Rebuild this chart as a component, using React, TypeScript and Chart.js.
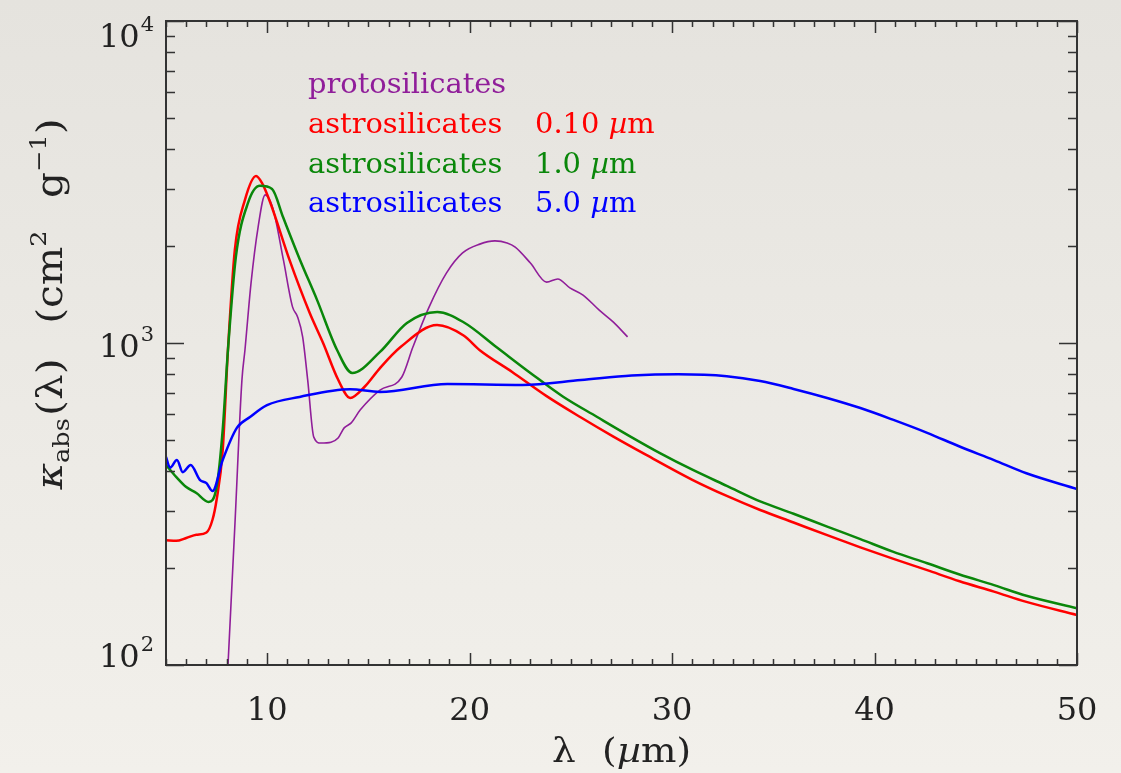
import React, { useEffect, useRef } from "react";
import { Chart, registerables } from "chart.js";

Chart.register(...registerables);

// ---------------- data (wavelength in µm, kappa_abs in cm^2 g^-1) ----------------
const protoX = [7.9, 8.41, 8.75, 8.9, 9.2, 9.55, 9.9, 10.3, 10.8, 11.25, 11.5, 11.75, 12.0, 12.3, 12.65, 13.15, 13.5, 13.8, 14.15, 14.6, 15.57, 16.65, 17.2, 18.0, 18.85, 19.65, 20.5, 21.25, 21.85, 22.25, 23.0, 23.8, 24.35, 24.95, 25.6, 26.4, 27.1, 27.8];
const protoY = [62, 278, 767, 951, 1535, 2292, 2884, 2590, 1811, 1295, 1205, 1045, 767, 510, 489, 492, 507, 545, 565, 620, 714, 784, 973, 1295, 1648, 1904, 2028, 2075, 2045, 1985, 1771, 1545, 1580, 1483, 1409, 1265, 1161, 1045];

const astro010X = [5.0, 5.5, 6.0, 6.5, 7.0, 7.3, 7.5, 7.8, 8.06, 8.4, 8.9, 9.45, 9.74, 10.14, 11.1, 12.1, 12.76, 13.5, 14.1, 14.8, 15.57, 16.6, 18.39, 19.7, 20.5, 22.1, 23.8, 25.5, 27.1, 28.7, 31.0, 32.7, 34.35, 36.0, 37.66, 39.3, 40.9, 42.6, 44.2, 45.9, 47.5, 50.0];
const astro010Y = [244, 243, 248, 254, 258, 283, 326, 464, 951, 1945, 2782, 3300, 3140, 2740, 1811, 1239, 1000, 770, 675, 730, 836, 973, 1137, 1055, 950, 813, 684, 587, 512, 450, 376, 335, 303, 277, 253, 232, 214, 197, 182, 169, 157, 143];

const astro10X = [5.0, 5.5, 6.0, 6.5, 7.1, 7.5, 7.8, 8.06, 8.45, 9.05, 9.64, 10.24, 10.78, 11.62, 12.46, 13.45, 14.2, 15.57, 16.9, 18.4, 19.7, 21.35, 23.0, 24.6, 26.3, 27.9, 29.4, 31.0, 32.7, 34.35, 36.0, 37.66, 39.3, 40.9, 42.6, 44.2, 45.9, 47.5, 50.0];
const astro10Y = [418, 384, 357, 342, 321, 357, 537, 951, 1849, 2722, 3076, 3009, 2461, 1811, 1361, 951, 807, 938, 1154, 1248, 1160, 968, 807, 682, 589, 514, 455, 404, 360, 322, 295, 269, 246, 225, 207, 191, 177, 164, 150];

const astro50X = [5.0, 5.2, 5.54, 5.83, 6.22, 6.67, 7.0, 7.3, 7.8, 8.5, 9.15, 9.99, 11.6, 14.1, 15.57, 18.9, 22.6, 25.5, 28.0, 30.3, 32.7, 34.35, 36.0, 37.66, 39.3, 40.9, 42.6, 44.2, 45.9, 47.5, 50.0];
const astro50Y = [443, 410, 433, 397, 418, 376, 367, 347, 433, 545, 589, 641, 680, 719, 705, 746, 741, 767, 792, 800, 789, 762, 720, 675, 628, 578, 526, 477, 433, 394, 352];

// ---------------- axes / labels ----------------
const xMin = 5;
const xMax = 50;
const xMajorTicks = [10, 20, 30, 40, 50];
const xTickLabels = ["10", "20", "30", "40", "50"];
const yDecades = [100, 1000, 10000];
const yTickExponents = ["2", "3", "4"];

const legendNames = ["protosilicates", "astrosilicates", "astrosilicates", "astrosilicates"];
const legendSizes = ["", "0.10", "1.0", "5.0"];
const seriesColors = ["#901e9a", "#ff0000", "#0a870a", "#0000ff"];

const SERIF = '"DejaVu Serif", "Liberation Serif", serif';

type Piece = { t: string; size: number; dy: number; italic?: boolean; gap?: number };

function drawPieces(
  ctx: CanvasRenderingContext2D,
  pieces: Piece[],
  x: number,
  y: number,
  align: "left" | "center",
  sx = 1
) {
  const widths = pieces.map((p) => {
    ctx.font = `${p.italic ? "italic " : ""}${p.size}px ${SERIF}`;
    return ctx.measureText(p.t).width + (p.gap || 0);
  });
  const total = widths.reduce((a, b) => a + b, 0) * sx;
  const x0 = align === "center" ? x - total / 2 : x;
  ctx.save();
  ctx.translate(x0, y);
  ctx.scale(sx, 1);
  ctx.textAlign = "left";
  ctx.textBaseline = "alphabetic";
  let cx = 0;
  pieces.forEach((p, i) => {
    ctx.font = `${p.italic ? "italic " : ""}${p.size}px ${SERIF}`;
    ctx.fillText(p.t, cx, p.dy);
    cx += widths[i];
  });
  ctx.restore();
}

const decorPlugin = {
  id: "decor",
  afterDatasetsDraw(chart: any) {
    const ctx: CanvasRenderingContext2D = chart.ctx;
    const { left, right, top, bottom } = chart.chartArea;
    const xs = chart.scales.x;
    const ys = chart.scales.y;
    ctx.save();
    ctx.strokeStyle = "#333333";
    ctx.fillStyle = "#222222";

    // frame
    ctx.lineWidth = 2;
    ctx.strokeRect(left, top, right - left, bottom - top);

    // x ticks (inward, both sides)
    ctx.lineWidth = 1.5;
    ctx.beginPath();
    for (let v = xMin; v <= xMax; v++) {
      const px = Math.round(xs.getPixelForValue(v)) + 0.5;
      const len = xMajorTicks.includes(v) ? 12 : 6;
      ctx.moveTo(px, bottom);
      ctx.lineTo(px, bottom - len);
      ctx.moveTo(px, top);
      ctx.lineTo(px, top + len);
    }
    // y ticks (log, inward both sides)
    for (let d = 0; d < yDecades.length; d++) {
      for (let m = 1; m <= 9; m++) {
        const v = yDecades[d] * m;
        if (v > yDecades[yDecades.length - 1]) break;
        const py = Math.round(ys.getPixelForValue(v)) + 0.5;
        const len = m === 1 ? 18 : 9;
        ctx.moveTo(left, py);
        ctx.lineTo(left + len, py);
        ctx.moveTo(right, py);
        ctx.lineTo(right - len, py);
      }
    }
    ctx.stroke();

    // x tick labels
    ctx.font = `32px ${SERIF}`;
    ctx.textAlign = "center";
    ctx.textBaseline = "alphabetic";
    xMajorTicks.forEach((v, i) => {
      ctx.fillText(xTickLabels[i], xs.getPixelForValue(v), bottom + 55);
    });

    // y tick labels 10^n
    yDecades.forEach((v, i) => {
      const ty = ys.getPixelForValue(v);
      const frac = (bottom - ty) / (bottom - top);
      const base = ty + 2 + 24 * frac;
      ctx.font = `32px ${SERIF}`;
      const w1 = ctx.measureText("10").width;
      ctx.font = `21px ${SERIF}`;
      const w2 = ctx.measureText(yTickExponents[i]).width;
      const xStart = left - 13 - w1 - w2;
      ctx.textAlign = "left";
      ctx.font = `32px ${SERIF}`;
      ctx.fillText("10", xStart, base);
      ctx.font = `21px ${SERIF}`;
      ctx.fillText(yTickExponents[i], xStart + w1 + 1, base - 16);
    });

    // x title
    drawPieces(
      ctx,
      [
        { t: "λ", size: 34, dy: 0, gap: 24 },
        { t: "(", size: 34, dy: 0 },
        { t: "µ", size: 34, dy: 0, italic: true },
        { t: "m)", size: 34, dy: 0 },
      ],
      (left + right) / 2,
      bottom + 97,
      "center",
      1.1
    );

    // y title (rotated)
    ctx.save();
    ctx.translate(62, 304);
    ctx.rotate(-Math.PI / 2);
    drawPieces(
      ctx,
      [
        { t: "κ", size: 35, dy: 0, italic: true },
        { t: "abs", size: 22, dy: 7, gap: 2 },
        { t: "(λ)", size: 35, dy: 0, gap: 30 },
        { t: "(cm", size: 35, dy: 0 },
        { t: "2", size: 22, dy: -16, gap: 28 },
        { t: "g", size: 35, dy: 0 },
        { t: "−1", size: 22, dy: -16 },
        { t: ")", size: 35, dy: 0 },
      ],
      0,
      0,
      "center",
      1.16
    );
    ctx.restore();

    // legend text
    const legBase = [93, 133, 173, 212];
    legendNames.forEach((name, i) => {
      ctx.fillStyle = seriesColors[i];
      drawPieces(ctx, [{ t: name, size: 27, dy: 0 }], 308, legBase[i], "left", 1.07);
      if (legendSizes[i]) {
        drawPieces(
          ctx,
          [
            { t: legendSizes[i] + " ", size: 27, dy: 0 },
            { t: "µ", size: 27, dy: 0, italic: true },
            { t: "m", size: 27, dy: 0 },
          ],
          535,
          legBase[i],
          "left",
          1.07
        );
      }
    });

    ctx.restore();
  },
};

function toPoints(xs: number[], ys: number[]) {
  return xs.map((x, i) => ({ x, y: ys[i] }));
}

export default function App() {
  const canvasRef = useRef<HTMLCanvasElement | null>(null);

  useEffect(() => {
    const canvas = canvasRef.current;
    if (!canvas) return;
    const common = {
      pointRadius: 0,
      fill: false,
      cubicInterpolationMode: "monotone" as const,
    };
    const chart = new Chart(canvas, {
      type: "line",
      data: {
        datasets: [
          { ...common, label: "protosilicates", data: toPoints(protoX, protoY), borderColor: seriesColors[0], borderWidth: 1.6, order: 4 },
          { ...common, label: "astrosilicates 0.10 µm", data: toPoints(astro010X, astro010Y), borderColor: seriesColors[1], borderWidth: 2.5, order: 3 },
          { ...common, label: "astrosilicates 1.0 µm", data: toPoints(astro10X, astro10Y), borderColor: seriesColors[2], borderWidth: 2.5, order: 2 },
          { ...common, label: "astrosilicates 5.0 µm", data: toPoints(astro50X, astro50Y), borderColor: seriesColors[3], borderWidth: 2.5, order: 1 },
        ],
      },
      options: {
        responsive: false,
        animation: false,
        devicePixelRatio: 1,
        layout: { padding: { left: 166, right: 44, top: 21, bottom: 108 } },
        plugins: { legend: { display: false }, tooltip: { enabled: false } },
        scales: {
          x: { type: "linear", min: xMin, max: xMax, display: false },
          y: { type: "logarithmic", min: yDecades[0], max: yDecades[yDecades.length - 1], display: false },
        },
      },
      plugins: [decorPlugin],
    });
    return () => chart.destroy();
  }, []);

  return (
    <div
      style={{
        position: "fixed",
        left: 0,
        top: 0,
        width: 1121,
        height: 773,
        background: "linear-gradient(180deg, #e5e3de 0%, #ebe9e4 45%, #f2f0eb 100%)",
      }}
    >
      <canvas ref={canvasRef} width={1121} height={773} style={{ display: "block", width: 1121, height: 773 }} />
    </div>
  );
}
